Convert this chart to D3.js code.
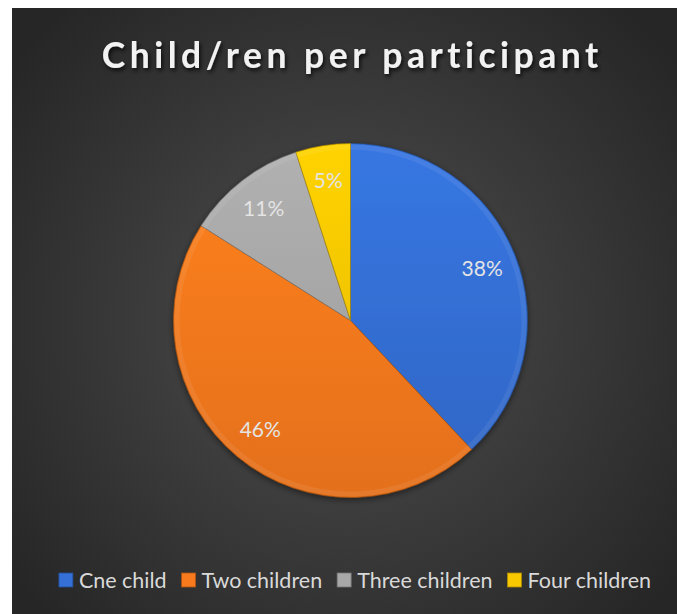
<!DOCTYPE html>
<html>
<head>
<meta charset="utf-8">
<script src="https://cdn.jsdelivr.net/npm/d3@7"></script>
<style>
  html, body { margin: 0; padding: 0; background: #ffffff; }
  svg { display: block; }
</style>
</head>
<body>
<svg id="chart" width="677" height="614"></svg>
<script>
// Share of participants by number of children
const categories = ["Cne child", "Two children", "Three children", "Four children"];
const values = [38, 46, 11, 5];
const percentLabels = ["38%", "46%", "11%", "5%"];
const colors = ["#3470d6", "#f97a1c", "#a8a8a8", "#f7c800"];
const titleText = "Child/ren per participant";

const W = 677, H = 614;
const svg = d3.select("#chart");
const defs = svg.append("defs");

// panel background: dark radial gradient, lighter in the middle
const bg = defs.append("radialGradient").attr("id", "bgGrad")
  .attr("gradientUnits", "userSpaceOnUse")
  .attr("cx", 345).attr("cy", 320).attr("r", 420);
bg.append("stop").attr("offset", "0%").attr("stop-color", "#4f4f4f");
bg.append("stop").attr("offset", "100%").attr("stop-color", "#262626");

svg.append("rect").attr("x", 12).attr("y", 8)
  .attr("width", W - 12).attr("height", H - 8)
  .attr("fill", "url(#bgGrad)");

// title shadow filter
const tf = defs.append("filter").attr("id", "titleShadow")
  .attr("x", "-10%").attr("y", "-30%").attr("width", "120%").attr("height", "160%");
tf.append("feDropShadow").attr("dx", 1.5).attr("dy", 2.5).attr("stdDeviation", 2)
  .attr("flood-color", "#000").attr("flood-opacity", 0.8);

const titleSpacing = 4.5;
const title = svg.append("text")
  .attr("x", 350).attr("y", 68)
  .attr("font-family", "Lato, 'Open Sans', sans-serif")
  .attr("font-weight", "bold")
  .attr("font-size", 35.5)
  .attr("letter-spacing", titleSpacing)
  .attr("fill", "#f2f2f2")
  .attr("filter", "url(#titleShadow)")
  .text(titleText);
// centre the title on its visible glyphs (letter-spacing adds a trailing gap)
const tb = title.node().getBBox();
title.attr("x", 350 - (tb.width - titleSpacing) / 2);

// pie
const cx = 350.5, cy = 320.5, R = 177;
const pie = d3.pie().sort(null).value(d => d)(values);
const arc = d3.arc().innerRadius(0).outerRadius(R);
const labelArc = d3.arc().innerRadius(R * 0.8).outerRadius(R * 0.8);

// slice shading: lighter toward the top, deeper toward the bottom
colors.forEach((c, i) => {
  const g = defs.append("linearGradient").attr("id", "slice" + i)
    .attr("gradientUnits", "userSpaceOnUse")
    .attr("x1", 0).attr("y1", -R).attr("x2", 0).attr("y2", R);
  g.append("stop").attr("offset", "0%").attr("stop-color", d3.color(c).brighter(0.15));
  g.append("stop").attr("offset", "100%").attr("stop-color", d3.color(c).darker(0.25));
});

const ps = defs.append("filter").attr("id", "pieShadow")
  .attr("x", "-20%").attr("y", "-20%").attr("width", "140%").attr("height", "140%");
ps.append("feDropShadow").attr("dx", 0).attr("dy", 2).attr("stdDeviation", 3)
  .attr("flood-color", "#000").attr("flood-opacity", 0.5);

const gPie = svg.append("g").attr("transform", `translate(${cx},${cy})`);
gPie.append("g").attr("filter", "url(#pieShadow)")
  .selectAll("path").data(pie).join("path")
  .attr("d", arc)
  .attr("fill", (d, i) => `url(#slice${i})`)
  .attr("stroke", (d, i) => d3.color(colors[i]).darker(1.2))
  .attr("stroke-width", 1)
  .attr("stroke-opacity", 0.6);

// bevel highlight along each slice's outer rim
const rimArc = d3.arc().innerRadius(R - 6).outerRadius(R - 1);
gPie.selectAll("path.rim").data(pie).join("path")
  .attr("class", "rim")
  .attr("d", rimArc)
  .attr("fill", "#ffffff")
  .attr("fill-opacity", 0.07);

gPie.selectAll("text").data(pie).join("text")
  .attr("transform", d => `translate(${labelArc.centroid(d)})`)
  .attr("text-anchor", "middle")
  .attr("dy", "0.35em")
  .attr("font-family", "Lato, 'Open Sans', sans-serif")
  .attr("font-size", 21)
  .attr("fill", "#e4e4e4")
  .text((d, i) => percentLabels[i]);

// legend
const legendFont = 21.5;
const legend = svg.append("g").attr("transform", "translate(0,580)");
const items = legend.selectAll("g").data(categories).join("g");
items.append("rect")
  .attr("y", -7).attr("width", 14).attr("height", 14)
  .attr("fill", (d, i) => colors[i])
  .attr("stroke", (d, i) => d3.color(colors[i]).darker(1))
  .attr("stroke-width", 0.8);
items.append("text")
  .attr("x", 20).attr("dy", "0.35em")
  .attr("font-family", "Lato, 'Open Sans', sans-serif")
  .attr("font-size", legendFont)
  .attr("fill", "#d9d9d9")
  .text(d => d);
const widths = [];
items.each(function() { widths.push(this.getBBox().width); });
const gap = 15;
const total = d3.sum(widths) + gap * (widths.length - 1);
let pos = 355 - total / 2;
items.attr("transform", (d, i) => {
  const t = `translate(${pos},0)`;
  pos += widths[i] + gap;
  return t;
});
</script>
</body>
</html>
